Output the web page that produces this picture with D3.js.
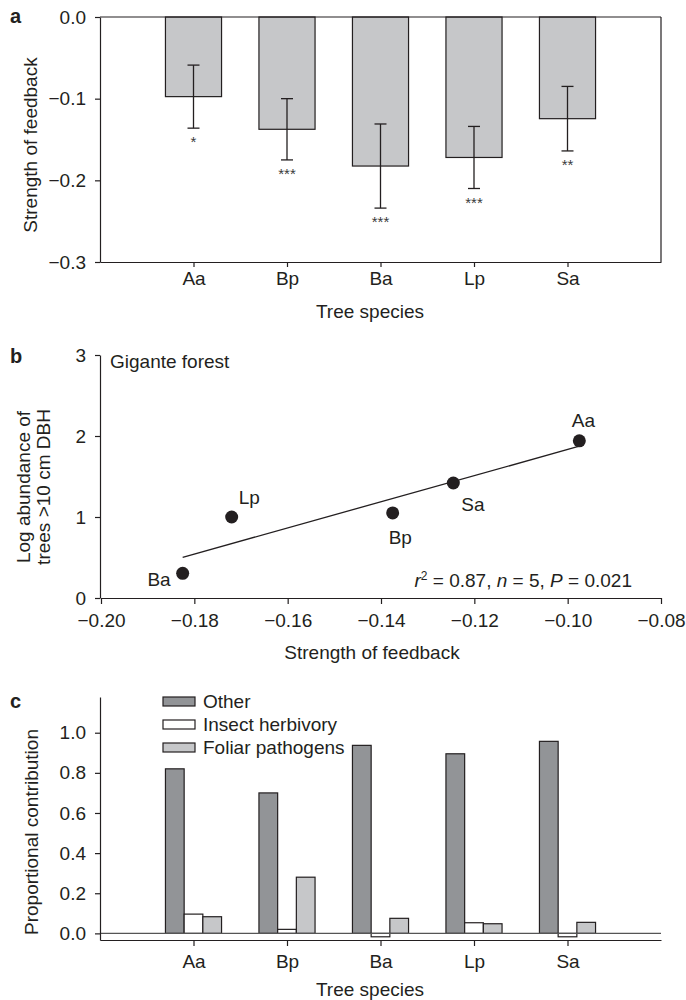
<!DOCTYPE html>
<html>
<head>
<meta charset="utf-8">
<script src="https://cdn.jsdelivr.net/npm/d3@7"></script>
<style>
  body { margin: 0; background: #fff; }
  svg { display: block; font-family: "Liberation Sans", Arial, sans-serif; }
  .axis path, .axis line { stroke: #231f20; stroke-width: 1.2; }
  .axis text { font-size: 19px; fill: #231f20; font-family: "Liberation Sans", Arial, sans-serif; }
</style>
</head>
<body>
<div id="chart"></div>
<script>
// species, shared by all three panels
var species = ['Aa', 'Bp', 'Ba', 'Lp', 'Sa'];

// panel a: feedback strength with error bars
var feedback = [-0.0975, -0.1375, -0.1825, -0.172, -0.1245];
var feedbackErr = [0.0386, 0.0375, 0.0515, 0.038, 0.0395];
var signif = ['*', '***', '***', '***', '**'];
var ticksA = [0, -0.1, -0.2, -0.3];

// panel b: log abundance vs feedback
var abundance = [1.94, 1.05, 0.305, 1.00, 1.42];
var ticksBx = [-0.20, -0.18, -0.16, -0.14, -0.12, -0.10, -0.08];
var ticksBy = [0, 1, 2, 3];

// panel c: proportional contributions
var seriesNames = ['Other', 'Insect herbivory', 'Foliar pathogens'];
var other = [0.82, 0.70, 0.937, 0.895, 0.957];
var insect = [0.096, 0.02, -0.017, 0.053, -0.017];
var foliar = [0.083, 0.28, 0.075, 0.048, 0.055];
var ticksC = [0, 0.2, 0.4, 0.6, 0.8, 1.0];

var ink = '#231f20';
var fs = 19;
var seriesFill = ['#929497', '#ffffff', '#c6c7c9'];
// label offsets for the scatter points (dx, dy, anchor)
var labelPos = {
  Aa: [4, -14, 'middle'], Bp: [-4, 31, 'start'], Ba: [-12, 13, 'end'],
  Lp: [7, -13, 'start'], Sa: [8, 28, 'start']
};

var svg = d3.select('#chart').append('svg')
  .attr('width', 686)
  .attr('height', 1000);

var left = 100, right = 661;

function panelLetter(t, y) {
  svg.append('text').attr('x', 10).attr('y', y)
    .attr('font-size', 20).attr('font-weight', 'bold').attr('fill', ink).text(t);
}
function title(t, x, y, rotate) {
  var el = svg.append('text').attr('font-size', fs).attr('fill', ink)
    .attr('text-anchor', 'middle').text(t);
  if (rotate) el.attr('transform', 'translate(' + x + ',' + y + ') rotate(-90)');
  else el.attr('x', x).attr('y', y);
  return el;
}

// ---------- panel a ----------
var xA = d3.scalePoint().domain(species).range([left, right]).padding(1);
var yA = d3.scaleLinear().domain([-0.3, 0]).range([262, 17]);
var barW = xA.step() * 0.6;

var gA = svg.append('g');
gA.selectAll('rect.bar')
  .data(species)
  .enter()
    .append('rect')
    .attr('x', function(d){ return xA(d) - barW / 2; })
    .attr('y', yA(0))
    .attr('width', barW)
    .attr('height', function(d, i){ return yA(feedback[i]) - yA(0); })
    .attr('fill', '#c6c7c9')
    .attr('stroke', ink)
    .attr('stroke-width', 1.2);

var errs = gA.selectAll('g.err')
  .data(species)
  .enter()
    .append('g')
    .attr('transform', function(d){ return 'translate(' + xA(d) + ',0)'; });
errs.append('line')
  .attr('y1', function(d, i){ return yA(feedback[i] + feedbackErr[i]); })
  .attr('y2', function(d, i){ return yA(feedback[i] - feedbackErr[i]); })
  .attr('stroke', ink).attr('stroke-width', 1.3);
errs.append('line')
  .attr('x1', -6).attr('x2', 6)
  .attr('y1', function(d, i){ return yA(feedback[i] + feedbackErr[i]); })
  .attr('y2', function(d, i){ return yA(feedback[i] + feedbackErr[i]); })
  .attr('stroke', ink).attr('stroke-width', 1.3);
errs.append('line')
  .attr('x1', -6).attr('x2', 6)
  .attr('y1', function(d, i){ return yA(feedback[i] - feedbackErr[i]); })
  .attr('y2', function(d, i){ return yA(feedback[i] - feedbackErr[i]); })
  .attr('stroke', ink).attr('stroke-width', 1.3);
errs.append('text')
  .attr('y', function(d, i){ return yA(feedback[i] - feedbackErr[i]) + 19; })
  .attr('text-anchor', 'middle')
  .attr('font-size', 15)
  .attr('fill', '#3a3a3a')
  .text(function(d, i){ return signif[i]; });

// frame: top and right lines
gA.append('line').attr('x1', left).attr('x2', right).attr('y1', yA(0)).attr('y2', yA(0))
  .attr('stroke', ink).attr('stroke-width', 1.2);
gA.append('line').attr('x1', right).attr('x2', right).attr('y1', yA(0)).attr('y2', yA(-0.3))
  .attr('stroke', ink).attr('stroke-width', 1.2);

gA.append('g').attr('class', 'axis')
  .attr('transform', 'translate(' + left + ',0)')
  .call(d3.axisLeft(yA).tickValues(ticksA).tickFormat(d3.format('.1f'))
    .tickSize(5).tickSizeOuter(0).tickPadding(9));
gA.append('g').attr('class', 'axis')
  .attr('transform', 'translate(0,' + yA(-0.3) + ')')
  .call(d3.axisBottom(xA).tickSize(5).tickSizeOuter(0).tickPadding(5));

panelLetter('a', 23);
title('Tree species', 370, 318);
title('Strength of feedback', 37, 145, true);

// ---------- panel b ----------
var xB = d3.scaleLinear().domain([-0.20, -0.08]).range([101, 661]);
var yB = d3.scaleLinear().domain([0, 3]).range([598, 355]);
var gB = svg.append('g');

// least squares fit of abundance on feedback
var mx = d3.mean(feedback), my = d3.mean(abundance);
var sxy = d3.sum(feedback, function(d, i){ return (d - mx) * (abundance[i] - my); });
var sxx = d3.sum(feedback, function(d){ return (d - mx) * (d - mx); });
var slope = sxy / sxx, icpt = my - slope * mx;
var fitX = d3.extent(feedback);
gB.append('line')
  .attr('x1', xB(fitX[0])).attr('y1', yB(icpt + slope * fitX[0]))
  .attr('x2', xB(fitX[1])).attr('y2', yB(icpt + slope * fitX[1]))
  .attr('stroke', ink).attr('stroke-width', 1.3);

var pts = gB.selectAll('g.pt')
  .data(species)
  .enter()
    .append('g')
    .attr('transform', function(d, i){ return 'translate(' + xB(feedback[i]) + ',' + yB(abundance[i]) + ')'; });
pts.append('circle').attr('r', 6.5).attr('fill', ink);
pts.append('text')
  .attr('x', function(d){ return labelPos[d][0]; })
  .attr('y', function(d){ return labelPos[d][1]; })
  .attr('text-anchor', function(d){ return labelPos[d][2]; })
  .attr('font-size', fs).attr('fill', ink)
  .text(function(d){ return d; });

gB.append('g').attr('class', 'axis')
  .attr('transform', 'translate(' + left + ',0)')
  .call(d3.axisLeft(yB).tickValues(ticksBy).tickFormat(d3.format('d'))
    .tickSize(5).tickSizeOuter(0).tickPadding(9));
gB.append('g').attr('class', 'axis')
  .attr('transform', 'translate(0,' + yB(0) + ')')
  .call(d3.axisBottom(xB).tickValues(ticksBx).tickFormat(d3.format('.2f'))
    .tickSize(6).tickSizeOuter(0).tickPadding(10));

gB.append('text').attr('x', 110).attr('y', 368)
  .attr('font-size', fs).attr('fill', ink).text('Gigante forest');

var stat = gB.append('text').attr('x', 632).attr('y', 587)
  .attr('text-anchor', 'end').attr('font-size', fs).attr('fill', ink);
stat.append('tspan').attr('font-style', 'italic').text('r');
stat.append('tspan').attr('font-size', 12).attr('dy', -7).text('2');
stat.append('tspan').attr('dy', 7).text(' = 0.87, ');
stat.append('tspan').attr('font-style', 'italic').text('n');
stat.append('tspan').text(' = 5, ');
stat.append('tspan').attr('font-style', 'italic').text('P');
stat.append('tspan').text(' = 0.021');

panelLetter('b', 363);
title('Strength of feedback', 372, 659);
var yl = title('', 0, 0, false).attr('transform', 'translate(33,487) rotate(-90)');
yl.append('tspan').attr('x', 0).attr('dy', -3).text('Log abundance of');
yl.append('tspan').attr('x', 0).attr('dy', 20).text('trees >10 cm DBH');

// ---------- panel c ----------
var xC = d3.scalePoint().domain(species).range([left, right]).padding(1);
var yC = d3.scaleLinear().domain([-0.033, 1.178]).range([940, 697]);
var subW = xC.step() * 0.2;
var seriesVals = [other, insect, foliar];
var gC = svg.append('g');

seriesVals.forEach(function(vals, s){
  gC.selectAll('rect.s' + s)
    .data(species)
    .enter()
      .append('rect')
      .attr('x', function(d){ return xC(d) + (s - 1.5) * subW; })
      .attr('y', function(d, i){ return yC(Math.max(0, vals[i])); })
      .attr('width', subW)
      .attr('height', function(d, i){ return Math.abs(yC(vals[i]) - yC(0)); })
      .attr('fill', seriesFill[s])
      .attr('stroke', ink)
      .attr('stroke-width', 1.2);
});

gC.append('line').attr('x1', left).attr('x2', right).attr('y1', yC(0)).attr('y2', yC(0))
  .attr('stroke', '#555').attr('stroke-width', 1.3);

gC.append('g').attr('class', 'axis')
  .attr('transform', 'translate(' + left + ',0)')
  .call(d3.axisLeft(yC).tickValues(ticksC).tickFormat(d3.format('.1f'))
    .tickSize(5).tickSizeOuter(0).tickPadding(9));
gC.append('g').attr('class', 'axis')
  .attr('transform', 'translate(0,' + yC.range()[0] + ')')
  .call(d3.axisBottom(xC).tickSize(6).tickSizeOuter(0).tickPadding(9));

var legend = gC.selectAll('g.leg')
  .data(seriesNames)
  .enter()
    .append('g')
    .attr('transform', function(d, i){ return 'translate(163,' + (697 + i * 23) + ')'; });
legend.append('rect')
  .attr('width', 32).attr('height', 9)
  .attr('fill', function(d, i){ return seriesFill[i]; })
  .attr('stroke', ink).attr('stroke-width', 1.2);
legend.append('text')
  .attr('x', 40).attr('y', 11)
  .attr('font-size', fs).attr('fill', ink)
  .text(function(d){ return d; });

panelLetter('c', 708);
title('Tree species', 370, 996);
title('Proportional contribution', 38, 832, true);
</script>
</body>
</html>
